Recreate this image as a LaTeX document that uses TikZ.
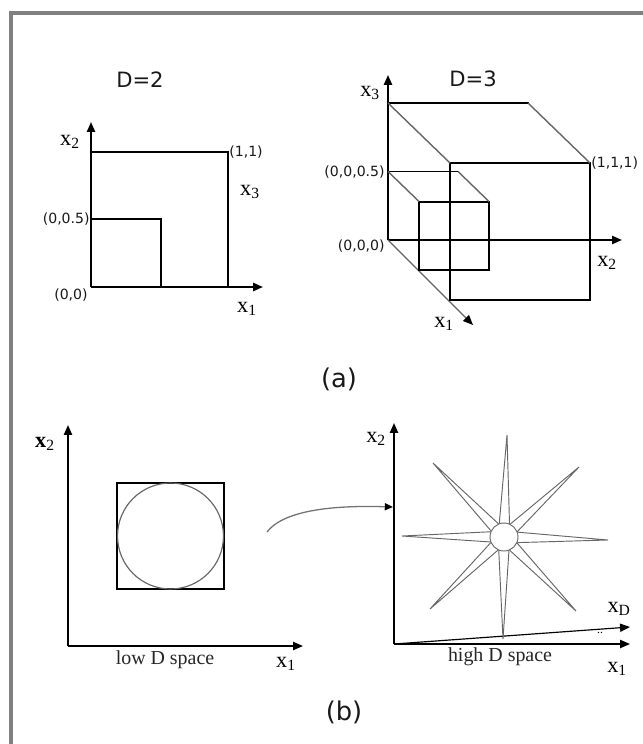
\documentclass[tikz,border=0pt]{standalone}
\usepackage{fontspec}
\newfontfamily\dejavu{DejaVu Sans}
\newfontfamily\lserif{Liberation Serif}
\usetikzlibrary{arrows.meta,calc}

\begin{document}
\begin{tikzpicture}[
  x=0.3mm,y=0.3mm,
  heading/.style={font=\dejavu\fontsize{18}{20}\selectfont,text=black!90},
  caption/.style={font=\dejavu\fontsize{22}{24}\selectfont,text=black!90},
  pt/.style={font=\dejavu\fontsize{12}{14}\selectfont,text=black!90,inner sep=1pt},
  var/.style={font=\lserif\fontsize{19}{20}\selectfont,inner sep=0pt},
  spacelbl/.style={font=\lserif\fontsize{17}{19}\selectfont,text=black!85},
  axis/.style={-{Triangle[length=8.5pt,width=7pt,color=black]},line width=1.6pt},
  edge/.style={line width=1.7pt,line cap=rect},
  diag/.style={line width=1.2pt,black!60},
  thinline/.style={line width=0.8pt,black!60},
  hub/.style={circle,draw=black!60,line width=0.8pt,fill=white,minimum size=8.4mm,inner sep=0pt}
]
\useasboundingbox (0,0) rectangle (643,-744);
\draw[gray,line width=3pt] (11,-744) -- (11,-13) -- (643,-13);

% (a) D=2
\coordinate (o2) at (91,-287);
\coordinate (q11) at (228,-152);
\coordinate (q05) at (161,-219);
\draw[axis] (o2) -- (263,-287);
\draw[axis] (o2) -- (91,-122);
\draw[edge] (o2 |- q11) -| (q11 |- o2);
\draw[edge] (o2 |- q05) -| (q05 |- o2);
\node[heading] (d2) at (140,-80) {D=2};
\node[var] (d2x2) at (70,-142) {x\textsubscript{2}};
\node[pt,anchor=west] (p11) at (q11) {(1,1)};
\node[var] (d2x3) at (250,-192) {x\textsubscript{3}};
\node[pt,anchor=east] (p005) at (o2 |- q05) {(0,0.5)};
\node[pt,anchor=east] (p00) at ($(o2)+(-2,-8)$) {(0,0)};
\node[var] (d2x1) at (247,-309) {x\textsubscript{1}};

% (a) D=3
\coordinate (o3) at (388,-240);
\draw[axis] (o3) -- (622,-240);
\draw[axis] (o3) -- (388,-75);
\draw[axis,diag] (o3) -- (473,-325);
\foreach \s in {1,0.5}{
  \draw[edge] ($(o3)+(0,137*\s)$) -- ++(140*\s,0);
  \draw[edge] ($(o3)+(62*\s,77*\s)$) rectangle ++(140*\s,-137*\s);
  \draw[diag] ($(o3)+(0,137*\s)$) -- ++(62*\s,-60*\s)
              ($(o3)+(140*\s,137*\s)$) -- ++(62*\s,-60*\s);
}
\node[heading] (d3) at (473,-79) {D=3};
\node[var] (d3x3) at (370,-93) {x\textsubscript{3}};
\node[pt,anchor=east] (p0005) at (386,-172) {(0,0,0.5)};
\node[pt,anchor=east] (p000) at (386,-246) {(0,0,0)};
\node[pt,anchor=west] (p111) at (590,-163) {(1,1,1)};
\node[var] (d3x2) at (607,-263) {x\textsubscript{2}};
\node[var] (d3x1) at (444,-324) {x\textsubscript{1}};

\node[caption] (capa) at (339,-379) {(a)};

% (b) low D
\coordinate (o4) at (68,-646);
\draw[axis,line width=1.4pt] (o4) -- (303,-646);
\draw[axis,line width=1.4pt] (o4) -- (68,-425);
\draw[edge,line width=1.4pt] (117,-483) rectangle (224,-589);
\draw[thinline,line width=1pt] (170.5,-536) circle (53);
\node[var] (lx2) at (45,-444) {\textbf{x}\textsubscript{2}};
\node[spacelbl] (low) at (165,-660) {low D space};
\node[var] (lx1) at (286,-664) {x\textsubscript{1}};

\coordinate (cstart) at (267,-532);
\coordinate (ctip) at (393,-507);
\draw[-{Triangle[length=7pt,width=6pt,color=black]},line width=1.1pt,black!55]
  (cstart) .. controls (283,-511) and (330,-505) .. (ctip);

% (b) high D
\coordinate (o5) at (394,-644);
\draw[axis,line width=1.4pt] (o5) -- (630,-644);
\draw[axis,line width=1.4pt] (o5) -- (394,-423);
\draw[axis,line width=1pt] (o5) -- (630,-627);
\node[hub] (hub) at (504,-537) {};
\foreach \tx/\ty in {507/-435,579/-467,608/-540,576/-611,503/-639,430/-609,402/-536,433/-463}
  \draw[thinline] ($(hub.center)!0.14!21:(\tx,\ty)$) -- (\tx,\ty)
                  -- ($(hub.center)!0.14!-21:(\tx,\ty)$);
\node[var] (hx2) at (376,-439) {x\textsubscript{2}};
\node[var] (hxd) at (619,-609) {x\textsubscript{D}};
\node[font=\lserif\fontsize{10}{10}\selectfont,inner sep=0pt] (dots) at (600,-633) {..};
\node[spacelbl] (high) at (500,-657) {high D space};
\node[var] (hx1) at (617,-669) {x\textsubscript{1}};

\node[caption] (capb) at (344,-712) {(b)};
\end{tikzpicture}
\end{document}
